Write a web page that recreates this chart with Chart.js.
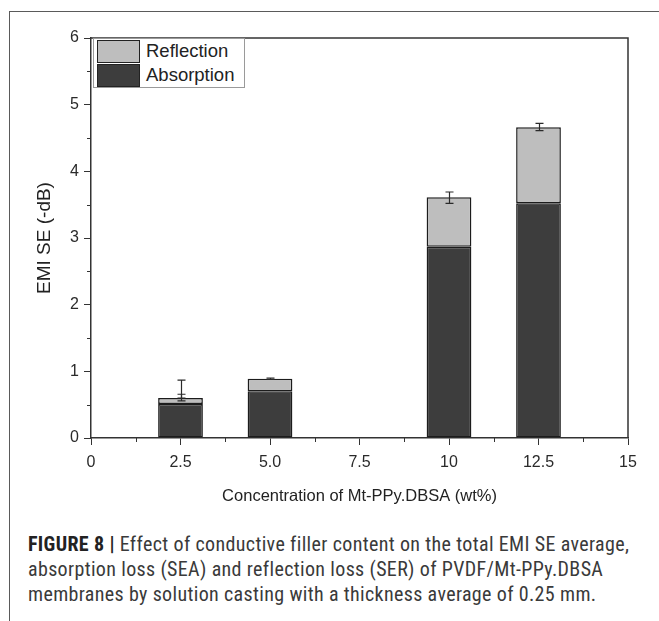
<!DOCTYPE html>
<html lang="en">
<head>
<meta charset="UTF-8">
<title>EMI SE vs Mt-PPy.DBSA content</title>
<script src="https://cdn.jsdelivr.net/npm/chart.js"></script>
<style>
    body {
        margin: 0;
        background: #fff;
        font-family: Arial, "Liberation Sans", sans-serif;
    }
    .figura {
        position: relative;
        width: 659px;
        height: 621px;
        overflow: hidden;
    }
    .marco-top {
        position: absolute;
        left: 10px; top: 11px;
        width: 649px; height: 0;
        border-top: 1.5px solid #5a5a5a;
    }
    .marco-left {
        position: absolute;
        left: 9px; top: 11px;
        width: 0; height: 610px;
        border-left: 1.5px solid #5a5a5a;
    }
    canvas {
        position: absolute;
        left: 0; top: 0;
    }
    .leyenda {
        position: absolute;
        left: 93px; top: 38px;
        width: 150px; height: 48px;
        border: 1px solid #9a9a9a;
        background: #fff;
    }
    .leyenda div {
        position: absolute;
        left: 3px;
        width: 41px; height: 21px;
        border: 1px solid #222;
    }
    .leyenda span {
        position: absolute;
        left: 52px;
        font-size: 18.5px;
        color: #222;
        line-height: 22px;
    }
    .caption {
        position: absolute;
        left: 28px; top: 532px;
        width: 630px;
        font-family: "Liberation Sans Narrow", "Roboto Condensed", Arial, sans-serif;
        font-stretch: condensed;
        font-size: 20px;
        letter-spacing: 0.35px;
        line-height: 25px;
        color: #3a3a3a;
        white-space: nowrap;
    }
    .caption b {
        color: #222;
    }
</style>
</head>
<body>
<div class="figura">
    <canvas id="grafica" width="659" height="520"></canvas>
    <div class="marco-top"></div>
    <div class="marco-left"></div>
    <div class="leyenda" id="leyenda"></div>
    <div class="caption">
        <b>FIGURE 8 |</b> Effect of conductive filler content on the total EMI SE average,<br>
        absorption loss (SEA) and reflection loss (SER) of PVDF/Mt-PPy.DBSA<br>
        membranes by solution casting with a thickness average of 0.25 mm.
    </div>
</div>

<script>
    // datos
    const concentracion = [2.5, 5.0, 10, 12.5];
    const absorcion = [0.51, 0.70, 2.87, 3.52];
    const reflexion = [0.09, 0.19, 0.74, 1.14];

    // barras de error (x, inferior, superior)
    const errX = [2.5, 2.5, 5.0, 10, 12.5];
    const errBajo = [0.556, 0.60, 0.88, 3.52, 4.61];
    const errAlto = [0.656, 0.867, 0.90, 3.69, 4.72];

    const xTicks = [0, 2.5, 5, 7.5, 10, 12.5, 15];
    const xTickLabels = ['0', '2.5', '5.0', '7.5', '10', '12.5', '15'];
    const xMinor = [1.25, 3.75, 6.25, 8.75, 11.25, 13.75];
    const yMinor = [0.5, 1.5, 2.5, 3.5, 4.5, 5.5];

    const colorReflexion = '#bebebe';
    const colorAbsorcion = '#3d3d3d';

    Chart.defaults.font.family = 'Arial, "Liberation Sans", sans-serif';
    Chart.defaults.color = '#2a2a2a';

    // leyenda
    const leyenda = document.getElementById('leyenda');
    [['Reflection', colorReflexion], ['Absorption', colorAbsorcion]].forEach(([txt, col], i) => {
        const sw = document.createElement('div');
        sw.style.top = (1 + i * 24) + 'px';
        sw.style.background = col;
        leyenda.appendChild(sw);
        const sp = document.createElement('span');
        sp.style.top = (1 + i * 24) + 'px';
        sp.textContent = txt;
        leyenda.appendChild(sp);
    });

    const extras = {
        id: 'extras',
        afterDatasetsDraw(chart) {
            const c = chart.ctx;
            const xs = chart.scales.x, ys = chart.scales.y;
            const a = chart.chartArea;
            c.save();
            c.strokeStyle = '#2a2a2a';
            c.lineWidth = 1.2;
            // barras de error
            errX.forEach((x, i) => {
                const px = Math.round(xs.getPixelForValue(x)) + 0.5;
                const y1 = ys.getPixelForValue(errBajo[i]);
                const y2 = ys.getPixelForValue(errAlto[i]);
                c.beginPath();
                c.moveTo(px, y1); c.lineTo(px, y2);
                c.moveTo(px - 4, y1); c.lineTo(px + 4, y1);
                c.moveTo(px - 4, y2); c.lineTo(px + 4, y2);
                c.stroke();
            });
            // marco superior y derecho
            c.lineWidth = 1.5;
            c.strokeStyle = '#333';
            c.beginPath();
            c.moveTo(a.left, a.top); c.lineTo(a.right, a.top); c.lineTo(a.right, a.bottom);
            c.stroke();
            // ticks menores
            c.lineWidth = 1;
            c.beginPath();
            xMinor.forEach(v => {
                const px = Math.round(xs.getPixelForValue(v)) + 0.5;
                c.moveTo(px, a.bottom); c.lineTo(px, a.bottom + 4);
            });
            yMinor.forEach(v => {
                const py = Math.round(ys.getPixelForValue(v)) + 0.5;
                c.moveTo(a.left - 4, py); c.lineTo(a.left, py);
            });
            c.stroke();
            c.restore();
        }
    };

    const ctx = document.getElementById('grafica').getContext('2d');
    const myChart = new Chart(ctx, {
        type: 'bar',
        data: {
            datasets: [{
                label: 'Absorption',
                data: concentracion.map((x, i) => ({ x: x, y: absorcion[i] })),
                backgroundColor: colorAbsorcion,
                borderColor: '#1c1c1c',
                borderWidth: 1.5,
                borderSkipped: false
            }, {
                label: 'Reflection',
                data: concentracion.map((x, i) => ({ x: x, y: reflexion[i] })),
                backgroundColor: colorReflexion,
                borderColor: '#1c1c1c',
                borderWidth: 1.5,
                borderSkipped: false
            }]
        },
        options: {
            responsive: false,
            animation: false,
            barPercentage: 1,
            categoryPercentage: 0.5,
            layout: { padding: { top: 38, right: 31, left: 0, bottom: 0 } },
            scales: {
                x: {
                    type: 'linear',
                    stacked: true,
                    offset: false,
                    min: 0,
                    max: 15,
                    afterBuildTicks: s => { s.ticks = xTicks.map(v => ({ value: v })); },
                    afterFit: s => { s.height = 82; },
                    ticks: {
                        callback: (v, i) => xTickLabels[i],
                        font: { size: 16 },
                        padding: 8,
                        maxRotation: 0,
                        autoSkip: false
                    },
                    grid: { drawOnChartArea: false, offset: false, tickLength: 7, color: '#333', lineWidth: 1 },
                    border: { color: '#333', width: 1.5 },
                    title: {
                        display: true,
                        text: 'Concentration of Mt-PPy.DBSA (wt%)',
                        font: { size: 16.5 },
                        color: '#222',
                        padding: { top: 0, bottom: 14 }
                    }
                },
                y: {
                    stacked: true,
                    min: 0,
                    max: 6,
                    afterFit: s => { s.width = 91; },
                    ticks: { stepSize: 1, font: { size: 16 }, padding: 5 },
                    grid: { drawOnChartArea: false, tickLength: 7, color: '#333', lineWidth: 1 },
                    border: { color: '#333', width: 1.5 },
                    title: {
                        display: true,
                        text: 'EMI SE (-dB)',
                        font: { size: 19 },
                        color: '#222',
                        padding: { top: 33, bottom: 0 }
                    }
                }
            },
            plugins: {
                legend: { display: false },
                tooltip: { enabled: false }
            }
        },
        plugins: [extras]
    });
</script>
</body>
</html>
